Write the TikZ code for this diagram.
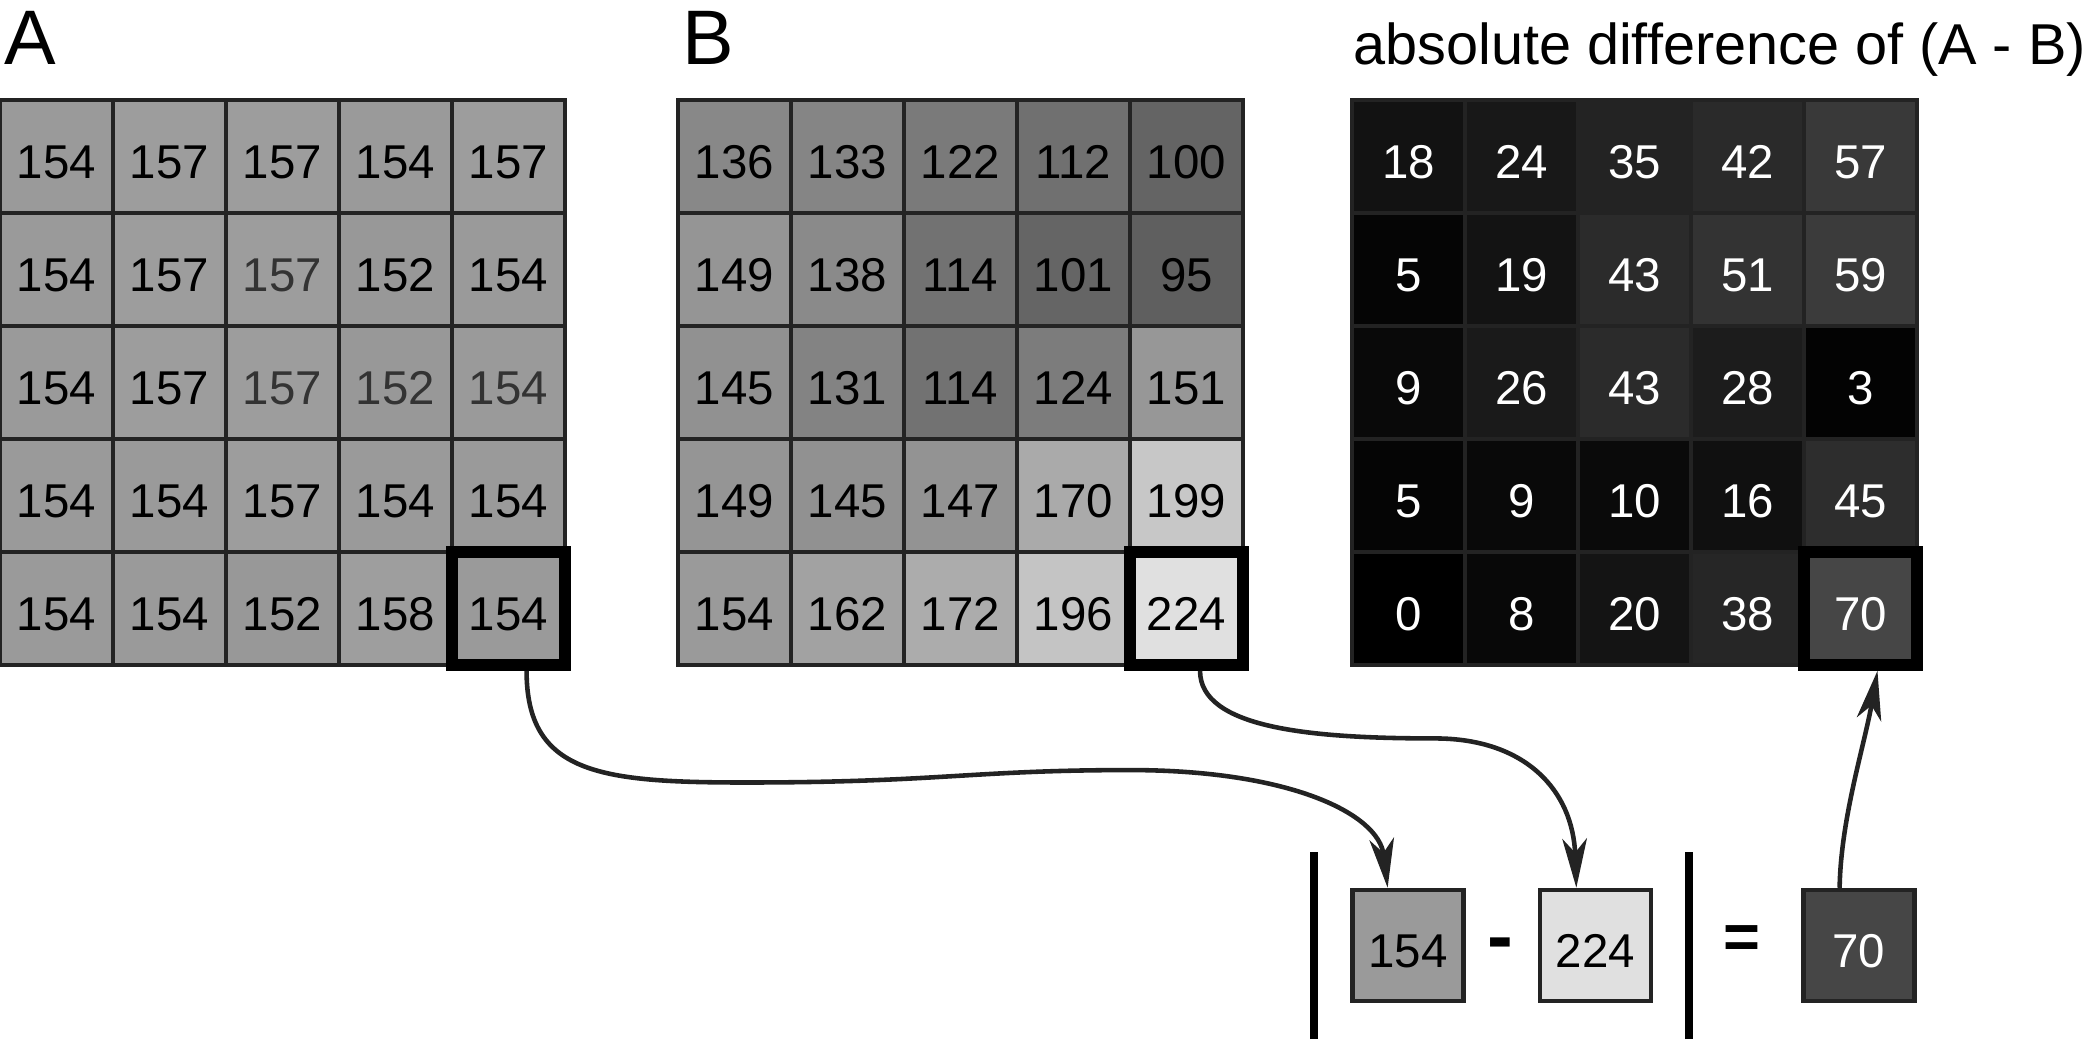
\documentclass[tikz,border=0pt]{standalone}
\usepackage{fontspec}
\setmainfont{Liberation Sans}
\usetikzlibrary{arrows.meta,calc}
\definecolor{edge}{HTML}{232323}
\definecolor{ink}{HTML}{333333}
\definecolor{pA}{RGB}{154,154,154}
\definecolor{pB}{RGB}{224,224,224}
\definecolor{pC}{RGB}{70,70,70}
\tikzset{
  cell/.style={rectangle,draw=edge,line width=1pt,minimum size=1.13cm,
    inner sep=0pt,text height=12.3pt,text depth=0pt,font=\fontsize{13.5}{16}\selectfont},
  hcell/.style={rectangle,draw=black,line width=3.3pt,minimum size=1.13cm,inner sep=0pt},
  pbox/.style={cell,line width=1.3pt,minimum size=1.11cm},
  tag/.style={inner sep=0pt,anchor=base west},
  sign/.style={inner sep=0pt,anchor=base,font=\bfseries\fontsize{#1}{#1}\selectfont},
  link/.style={-{Stealth[length=14pt,width=7pt,inset=4pt]},line width=1.3pt,color=edge},
  absbar/.style={line width=2.3pt,color=black},
  dimA23/.style={text=ink}, dimA33/.style={text=ink},
  dimA34/.style={text=ink}, dimA35/.style={text=ink},
}
\begin{document}
\begin{tikzpicture}[x=1.13cm,y=1.13cm]
  \useasboundingbox (0,0) rectangle (18.487,9.195);
  % the three matrices, each cell shaded by its own value
  \foreach \row [count=\r] in {{154,157,157,154,157},{154,157,157,152,154},
      {154,157,157,152,154},{154,154,157,154,154},{154,154,152,158,154}}
    \foreach \v [count=\c] in \row {
      \definecolor{tone}{RGB}{\v,\v,\v}
      \node[cell,fill=tone,dimA\r\c/.try] (a\r\c) at (\c-0.5,8.81-\r) {\v};
    }
  \foreach \row [count=\r] in {{136,133,122,112,100},{149,138,114,101,95},
      {145,131,114,124,151},{149,145,147,170,199},{154,162,172,196,224}}
    \foreach \v [count=\c] in \row {
      \definecolor{tone}{RGB}{\v,\v,\v}
      \node[cell,fill=tone] (b\r\c) at (\c+5.5,8.81-\r) {\v};
    }
  \foreach \row [count=\r] in {{18,24,35,42,57},{5,19,43,51,59},
      {9,26,43,28,3},{5,9,10,16,45},{0,8,20,38,70}}
    \foreach \v [count=\c] in \row {
      \definecolor{tone}{RGB}{\v,\v,\v}
      \node[cell,fill=tone,text=white] (c\r\c) at (\c+11.465,8.81-\r) {\v};
    }
  \node[hcell] (hA) at (a55) {}; \node[hcell] (hB) at (b55) {};
  \node[hcell] (hC) at (c55) {};
  \node[tag,font=\fontsize{22}{26}\selectfont] (labA) at (0.035,8.62) {A};
  \node[tag,font=\fontsize{22}{26}\selectfont] (labB) at (6.03,8.62) {B};
  \node[tag,font=\fontsize{16.4}{19}\selectfont] (labC) at (11.97,8.62)
    {absolute difference of (A - B)};
  % worked example
  \draw[absbar] (11.63,0) -- (11.63,1.655);
  \draw[absbar] (14.95,0) -- (14.95,1.655);
  \node[pbox,fill=pA] (d1) at (12.46,0.827) {154};
  \node[sign=22] (minus) at (13.28,0.68) {-};
  \node[pbox,fill=pB] (d2) at (14.12,0.827) {224};
  \node[sign=18] (equals) at (15.42,0.71) {=};
  \node[pbox,fill=pC,text=white] (d3) at (16.45,0.827) {70};
  \draw[link] ($(hA.south)+(0.16,0)$) .. controls (4.66,2.35) and (5.3,2.27) .. (6.6,2.27)
    .. controls (8.3,2.27) and (8.6,2.38) .. (10.0,2.38)
    .. controls (11.4,2.38) and (12.2,2.0) .. ($(d1.north)+(-0.18,0)$);
  \draw[link] ($(hB.south)+(0.12,0)$) .. controls (10.62,2.75) and (11.6,2.66) .. (12.7,2.66)
    .. controls (13.5,2.66) and (13.92,2.2) .. ($(d2.north)+(-0.17,0)$);
  \draw[link] ($(d3.north)+(-0.17,0)$) .. controls (16.29,1.95) and (16.5,2.6)
    .. ($(hC.south)+(0.15,0)$);
\end{tikzpicture}
\end{document}
